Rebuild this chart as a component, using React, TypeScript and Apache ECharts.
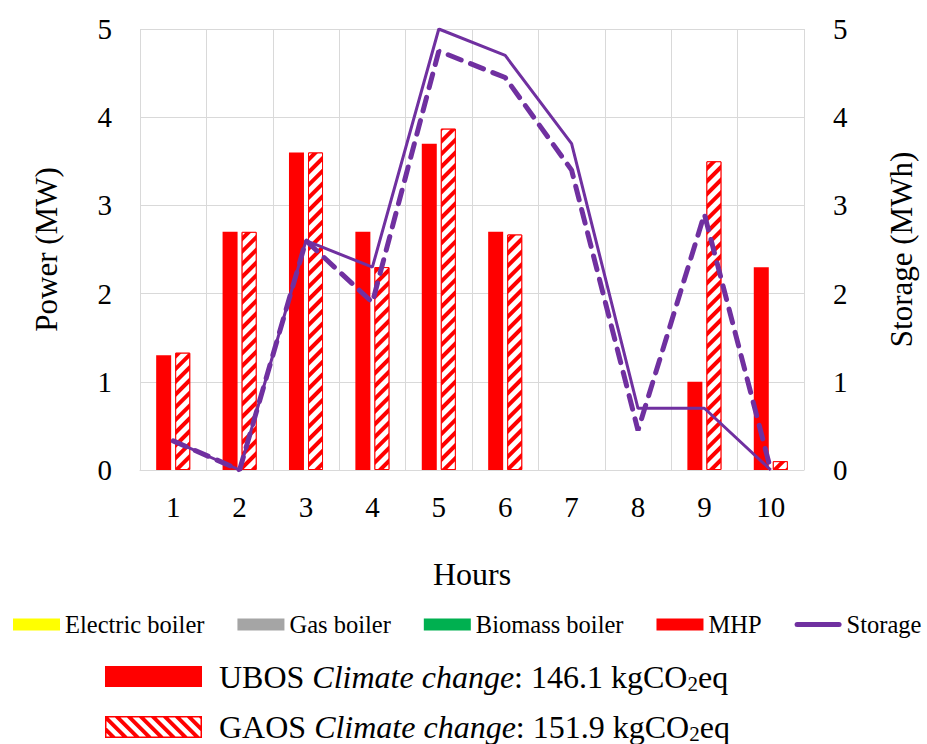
import React, { useEffect, useRef } from 'react';
import * as echarts from 'echarts';

const hours = ['1', '2', '3', '4', '5', '6', '7', '8', '9', '10'];
const ubosMHP = [1.3, 2.7, 3.6, 2.7, 3.7, 2.7, 0, 0, 1.0, 2.3];
const gaosMHP = [1.33, 2.7, 3.6, 2.3, 3.87, 2.67, 0, 0, 3.5, 0.1];
const ubosStorage = [0.33, 0, 2.6, 2.3, 5.0, 4.7, 3.7, 0.7, 0.7, 0];
const gaosStorage = [0.33, 0, 2.6, 1.9, 4.75, 4.45, 3.4, 0.45, 2.9, 0];
const legendNames = ['Electric boiler', 'Gas boiler', 'Biomass boiler', 'MHP', 'Storage'];
const legendColors = ['#FFFF00', '#A5A5A5', '#00B050', '#FF0000', '#7030A0'];

const FONT = 'Liberation Serif';
const RED = '#FF0000';
const PURPLE = '#7030A0';

type Pt = [number, number];
function clipPoly(pts: Pt[], x0: number, y0: number, x1: number, y1: number): Pt[] {
  const edges: [(p: Pt) => boolean, (a: Pt, b: Pt) => Pt][] = [
    [(p) => p[0] >= x0, (a, b) => { const t = (x0 - a[0]) / (b[0] - a[0]); return [x0, a[1] + t * (b[1] - a[1])]; }],
    [(p) => p[0] <= x1, (a, b) => { const t = (x1 - a[0]) / (b[0] - a[0]); return [x1, a[1] + t * (b[1] - a[1])]; }],
    [(p) => p[1] >= y0, (a, b) => { const t = (y0 - a[1]) / (b[1] - a[1]); return [a[0] + t * (b[0] - a[0]), y0]; }],
    [(p) => p[1] <= y1, (a, b) => { const t = (y1 - a[1]) / (b[1] - a[1]); return [a[0] + t * (b[0] - a[0]), y1]; }],
  ];
  let out = pts;
  for (const [inside, inter] of edges) {
    const input = out;
    out = [];
    for (let i = 0; i < input.length; i++) {
      const cur = input[i];
      const prev = input[(i + input.length - 1) % input.length];
      if (inside(cur)) {
        if (!inside(prev)) out.push(inter(prev, cur));
        out.push(cur);
      } else if (inside(prev)) {
        out.push(inter(prev, cur));
      }
    }
    if (!out.length) break;
  }
  return out;
}

function hatchedRect(x: number, y: number, w: number, h: number) {
  const children: any[] = [
    { type: 'rect', shape: { x, y, width: w, height: h }, style: { fill: RED } },
  ];
  const period = 12;
  const white = 6.5;
  for (let a = x - h - period; a < x + w + period; a += period) {
    const poly: Pt[] = [[a, y], [a + white, y], [a + white + h, y + h], [a + h, y + h]];
    const c = clipPoly(poly, x + 1.5, y + 1.5, x + w - 1.5, y + h - 1.5);
    if (c.length >= 3) children.push({ type: 'polygon', shape: { points: c }, style: { fill: '#fff' } });
  }
  return { type: 'group', children };
}

function legendText(label: string, value: string, y: number) {
  return {
    type: 'text',
    x: 219,
    y,
    style: {
      text: `{n|${label} }{i|Climate change}{n|: ${value} kgCO}{s|2}{n|eq}`,
      verticalAlign: 'middle',
      rich: {
        n: { fontFamily: FONT, fontSize: 32, fill: '#000', lineHeight: 36 },
        i: { fontFamily: FONT, fontSize: 32, fontStyle: 'italic', fill: '#000', lineHeight: 36 },
        s: { fontFamily: FONT, fontSize: 21, fill: '#000', lineHeight: 36, padding: [13, 0, 0, 0] },
      },
    },
  };
}

export default function App() {
  const ref = useRef<HTMLDivElement>(null);
  useEffect(() => {
    if (!ref.current) return;
    const chart = echarts.init(ref.current, undefined, { renderer: 'svg' });
    const zeroSeries = legendNames.slice(0, 3).map((n, i) => ({
      name: n,
      type: 'line',
      data: [],
      color: legendColors[i],
    }));
    chart.setOption({
      animation: false,
      textStyle: { fontFamily: FONT, color: '#000' },
      grid: { left: 140, right: 123, top: 29, bottom: 274 },
      legend: {
        left: 8,
        top: 607,
        itemWidth: 47,
        itemHeight: 12,
        itemGap: 33,
        symbolKeepAspect: true,
        textStyle: { fontFamily: FONT, fontSize: 24.5, color: '#000' },
        data: legendNames.map((n) => ({
          name: n,
          icon: n === 'Storage' ? 'path://M2.5,0 L44.5,0 A2.5,2.5 0 0 1 44.5,5 L2.5,5 A2.5,2.5 0 0 1 2.5,0 Z' : 'rect',
        })),
      },
      xAxis: {
        type: 'category',
        data: hours,
        name: 'Hours',
        nameLocation: 'middle',
        nameGap: 88,
        nameTextStyle: { fontFamily: FONT, fontSize: 32, color: '#000', verticalAlign: 'top' },
        axisLine: { show: true, lineStyle: { color: '#D9D9D9', width: 1 } },
        axisTick: { show: false },
        axisLabel: { fontFamily: FONT, fontSize: 29, color: '#000', margin: 22 },
        splitLine: { show: true, lineStyle: { color: '#D9D9D9', width: 1 } },
      },
      yAxis: [
        {
          type: 'value',
          min: 0,
          max: 5,
          interval: 1,
          name: 'Power (MW)',
          nameLocation: 'middle',
          nameGap: 78,
          nameRotate: 90,
          nameTextStyle: { fontFamily: FONT, fontSize: 31, color: '#000' },
          axisLine: { show: false },
          axisTick: { show: false },
          axisLabel: { fontFamily: FONT, fontSize: 29, color: '#000', margin: 28 },
          splitLine: { show: true, lineStyle: { color: '#D9D9D9', width: 1 } },
        },
        {
          type: 'value',
          min: 0,
          max: 5,
          interval: 1,
          name: 'Storage (MWh)',
          nameLocation: 'middle',
          nameGap: 82,
          nameRotate: 90,
          nameTextStyle: { fontFamily: FONT, fontSize: 31, color: '#000' },
          axisLine: { show: false },
          axisTick: { show: false },
          axisLabel: { fontFamily: FONT, fontSize: 29, color: '#000', margin: 29 },
          splitLine: { show: false },
        },
      ],
      series: [
        ...zeroSeries,
        {
          name: 'MHP',
          type: 'bar',
          data: ubosMHP.map((v) => (v === 0 ? null : v)),
          barWidth: 15,
          barGap: '27%',
          itemStyle: { color: RED },
        },
        {
          name: 'MHP GAOS',
          type: 'bar',
          data: gaosMHP.map((v) => (v === 0 ? null : v)),
          barWidth: 15,
          barGap: '27%',
          itemStyle: {
            color: RED,
            borderColor: RED,
            borderWidth: 1,
            decal: {
              symbol: 'rect',
              symbolSize: 1,
              color: '#FFFFFF',
              dashArrayX: [1, 0],
              dashArrayY: [5, 3.5],
              rotation: -Math.PI / 4,
            },
          },
        },
        {
          name: 'Storage',
          type: 'line',
          yAxisIndex: 1,
          data: ubosStorage,
          symbol: 'none',
          color: PURPLE,
          lineStyle: { color: PURPLE, width: 3 },
          z: 5,
        },
        {
          name: 'Storage GAOS',
          type: 'line',
          yAxisIndex: 1,
          data: gaosStorage,
          symbol: 'none',
          color: PURPLE,
          lineStyle: { color: PURPLE, width: 5, type: [14, 10], cap: 'round' },
          z: 5,
        },
      ],
      graphic: [
        { type: 'rect', shape: { x: 105, y: 666, width: 97, height: 21 }, style: { fill: RED } },
        legendText('UBOS', '146.1', 677),
        hatchedRect(105, 716, 97, 22),
        legendText('GAOS', '151.9', 727),
      ],
    });
    return () => chart.dispose();
  }, []);
  return <div ref={ref} style={{ width: 927, height: 744, position: 'absolute', left: 0, top: 0 }} />;
}
